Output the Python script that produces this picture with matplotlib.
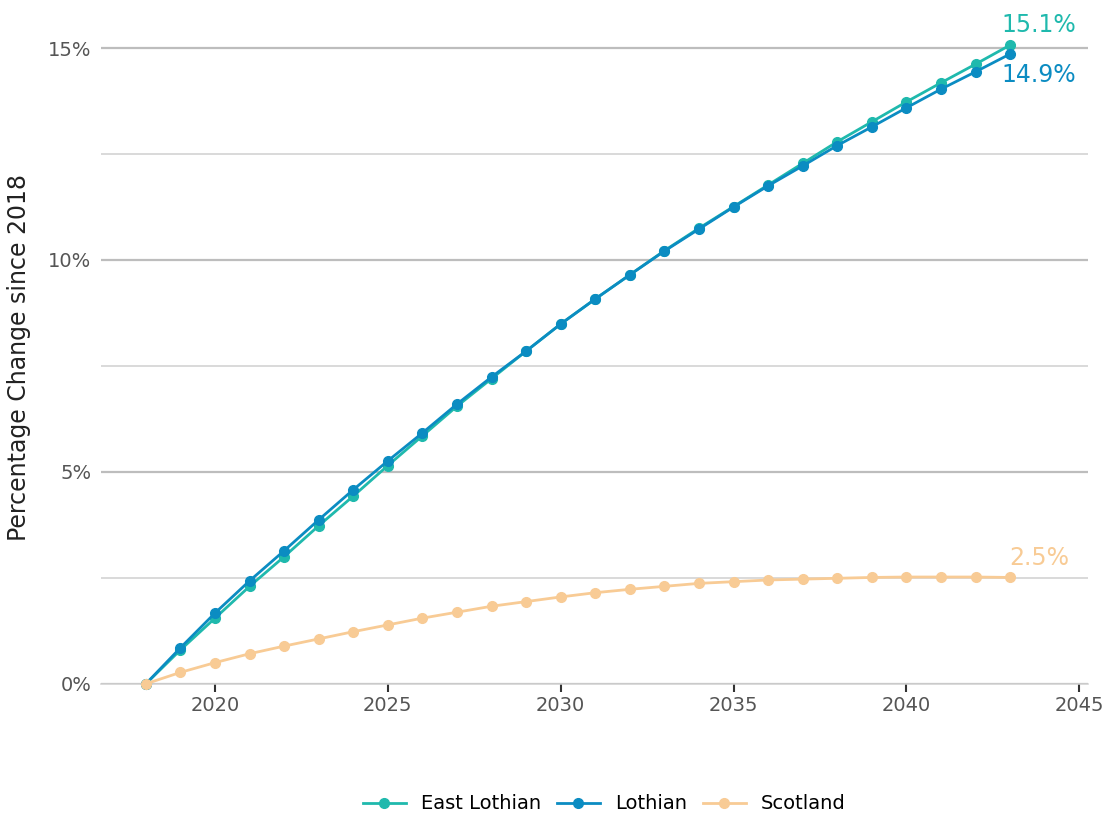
import matplotlib.pyplot as plt
import numpy as np

years = np.arange(2018, 2044)

east_lothian = [0.00, 0.80, 1.55, 2.30, 3.00, 3.73, 4.43, 5.15, 5.85, 6.55,
                7.20, 7.85, 8.49, 9.08, 9.65, 10.22, 10.75, 11.26, 11.77, 12.28,
                12.79, 13.26, 13.73, 14.18, 14.62, 15.07]
lothian = [0.00, 0.85, 1.67, 2.43, 3.14, 3.87, 4.58, 5.26, 5.92, 6.60,
           7.24, 7.85, 8.49, 9.08, 9.65, 10.21, 10.73, 11.25, 11.75, 12.22,
           12.70, 13.14, 13.59, 14.03, 14.44, 14.86]
scotland = [0.00, 0.27, 0.50, 0.71, 0.89, 1.06, 1.23, 1.39, 1.55, 1.69,
            1.83, 1.94, 2.05, 2.15, 2.23, 2.30, 2.37, 2.41, 2.45, 2.47,
            2.49, 2.51, 2.52, 2.52, 2.52, 2.51]

series = ["East Lothian", "Lothian", "Scotland"]
colors = ["#1fb9ad", "#0b8cc2", "#f8cb95"]
labels = ["15.1%", "14.9%", "2.5%"]
label_dy = [20, -21, 19]

fig = plt.figure(figsize=(11.09, 8.17), dpi=100)
ax = fig.add_axes([0.091, 0.163, 0.890, 0.80])

for name, vals, c in zip(series, [east_lothian, lothian, scotland], colors):
    ax.plot(years, vals, color=c, lw=2, marker="o", ms=7, label=name,
            clip_on=False, zorder=3)

for vals, c, lab, dy in zip([east_lothian, lothian, scotland], colors, labels, label_dy):
    ax.annotate(lab, xy=(years[-1], vals[-1]), xytext=(29, dy),
                textcoords="offset pixels", ha="center", va="center",
                color=c, fontsize=17)

ax.set_xlim(2016.7, 2045.25)
ax.set_ylim(0, 15.42)

ax.set_yticks([0, 5, 10, 15])
ax.set_yticklabels(["0%", "5%", "10%", "15%"])
ax.set_yticks([2.5, 7.5, 12.5], minor=True)
ax.set_xticks([2020, 2025, 2030, 2035, 2040, 2045])

ax.grid(axis="y", which="major", color="#bdbdbd", lw=1.6)
ax.grid(axis="y", which="minor", color="#d0d0d0", lw=1.1)
ax.set_axisbelow(True)

for s in ["top", "right", "left"]:
    ax.spines[s].set_visible(False)
ax.spines["bottom"].set_color("#cfcfcf")
ax.spines["bottom"].set_linewidth(1.1)

ax.tick_params(axis="y", which="both", length=0, labelsize=14, colors="#555555", pad=7)
ax.tick_params(axis="x", length=6, width=1.5, color="#333333", labelsize=14,
               labelcolor="#555555", pad=3)

ax.set_ylabel("Percentage Change since 2018", fontsize=17, color="#222222", labelpad=12)

fig.legend(loc="center", bbox_to_anchor=(0.545, 0.016), ncol=3, frameon=False,
           fontsize=14, handlelength=2.2, columnspacing=0.8, handletextpad=0.8)

fig.savefig("out.png", dpi=100, facecolor="white")
